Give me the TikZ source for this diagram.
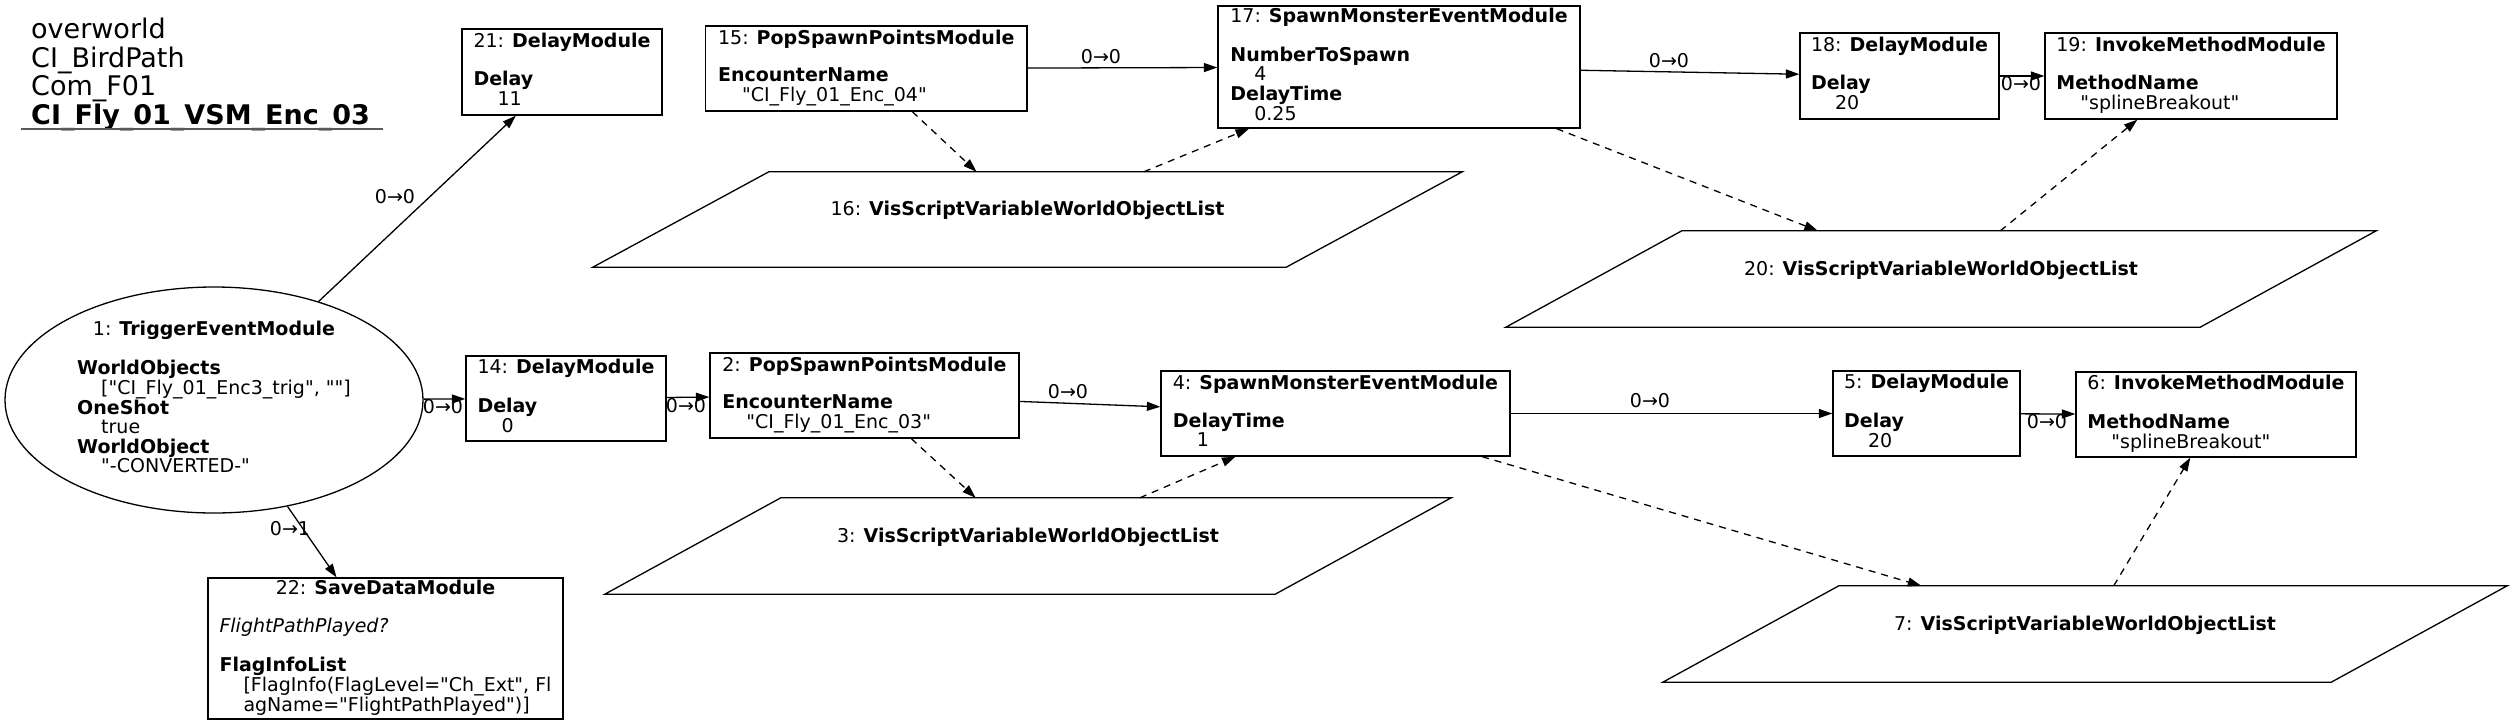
\documentclass[tikz,border=0pt]{standalone}
\usepackage{fontspec}
\setmainfont{DejaVu Sans}[Ligatures=TeXOff]
\usetikzlibrary{arrows.meta,shapes.geometric}

\newcommand{\modfont}{\fontsize{19pt}{18.5pt}\selectfont}
\newcommand{\headfont}{\fontsize{27pt}{27pt}\selectfont}
\newcommand{\modrows}[1]{\begin{tabular}{@{}l@{}}#1\end{tabular}}
\newcommand{\modtitle}[2]{\multicolumn{1}{@{}c@{}}{#1: \textbf{#2}}}
\newcommand{\valind}{\hspace*{24pt}}

\tikzset{
  module/.style={draw, rectangle, line width=1.3pt, inner sep=0pt},
  trigger/.style={draw, ellipse, line width=1.3pt, inner sep=0pt},
  varlist/.style={rectangle, inner sep=0pt, text height=14pt, text depth=22pt},
  flow/.style={-{Triangle[length=13.5pt,width=9pt]}, line width=1.3pt},
  link/.style={flow, dash pattern=on 7pt off 6pt},
  port/.style={inner sep=0pt}
}

\begin{document}
\begin{tikzpicture}[x=1pt, y=-1pt, font=\modfont]
  \useasboundingbox (0,0) rectangle (2512,724);

  % header
  \node[anchor=north west, inner sep=0pt, font=\headfont] (head) at (31,18)
    {\modrows{overworld\\CI\_BirdPath\\Com\_F01\\\textbf{CI\_Fly\_01\_VSM\_Enc\_03}}};
  \draw[line width=1.3pt, black!65] (21,129) -- (383,129);

  % modules
  \node[trigger, minimum width=418pt, minimum height=226pt] (1) at (214,400)
    {\modrows{\modtitle{1}{TriggerEventModule}\\ \\ \textbf{WorldObjects}\\ \valind["CI\_Fly\_01\_Enc3\_trig", ""]\\ \textbf{OneShot}\\ \valind true\\ \textbf{WorldObject}\\ \valind"-CONVERTED-"}};
  \node[module, minimum width=200pt, minimum height=86pt] (21) at (562,72)
    {\modrows{\modtitle{21}{DelayModule}\\ \\ \textbf{Delay}\\ \valind 11}};
  \node[module, minimum width=200pt, minimum height=85pt] (14) at (566,398.5)
    {\modrows{\modtitle{14}{DelayModule}\\ \\ \textbf{Delay}\\ \valind 0}};
  \node[module, minimum width=355pt, minimum height=141pt] (22) at (385.5,648.5)
    {\modrows{\modtitle{22}{SaveDataModule}\\ \\ \textit{FlightPathPlayed?}\\ \\ \textbf{FlagInfoList}\\ \valind[FlagInfo(FlagLevel="Ch\_Ext", Fl\\ \valind agName="FlightPathPlayed")]}};
  \node[module, minimum width=321.5pt, minimum height=85pt] (15) at (866.25,68.5)
    {\modrows{\modtitle{15}{PopSpawnPointsModule}\\ \\ \textbf{EncounterName}\\ \valind"CI\_Fly\_01\_Enc\_04"}};
  \node[module, minimum width=362pt, minimum height=122pt] (17) at (1399,67)
    {\modrows{\modtitle{17}{SpawnMonsterEventModule}\\ \\ \textbf{NumberToSpawn}\\ \valind 4\\ \textbf{DelayTime}\\ \valind 0.25}};
  \node[module, minimum width=199pt, minimum height=86pt] (18) at (1899.5,76)
    {\modrows{\modtitle{18}{DelayModule}\\ \\ \textbf{Delay}\\ \valind 20}};
  \node[module, minimum width=292pt, minimum height=86pt] (19) at (2191,76)
    {\modrows{\modtitle{19}{InvokeMethodModule}\\ \\ \textbf{MethodName}\\ \valind"splineBreakout"}};
  \node[module, minimum width=309pt, minimum height=85pt] (2) at (864.5,395.5)
    {\modrows{\modtitle{2}{PopSpawnPointsModule}\\ \\ \textbf{EncounterName}\\ \valind"CI\_Fly\_01\_Enc\_03"}};
  \node[module, minimum width=349pt, minimum height=85pt] (4) at (1335.5,413.5)
    {\modrows{\modtitle{4}{SpawnMonsterEventModule}\\ \\ \textbf{DelayTime}\\ \valind 1}};
  \node[module, minimum width=187pt, minimum height=85pt] (5) at (1926.5,413.5)
    {\modrows{\modtitle{5}{DelayModule}\\ \\ \textbf{Delay}\\ \valind 20}};
  \node[module, minimum width=280pt, minimum height=85pt] (6) at (2216,414.5)
    {\modrows{\modtitle{6}{InvokeMethodModule}\\ \\ \textbf{MethodName}\\ \valind"splineBreakout"}};

  % variable lists
  \node[varlist, minimum width=869pt, minimum height=95pt] (16) at (1027.5,219.5) {16: \textbf{VisScriptVariableWorldObjectList}};
  \node[varlist, minimum width=846pt, minimum height=96pt] (3) at (1028,546) {3: \textbf{VisScriptVariableWorldObjectList}};
  \node[varlist, minimum width=870pt, minimum height=96pt] (20) at (1941,279) {20: \textbf{VisScriptVariableWorldObjectList}};
  \node[varlist, minimum width=844pt, minimum height=96pt] (7) at (2085,634) {7: \textbf{VisScriptVariableWorldObjectList}};
  \foreach \p in {16,3,20,7}
    \draw[line width=1.3pt] ([xshift=176pt]\p.north west) -- (\p.north east)
      -- ([xshift=-176pt]\p.south east) -- (\p.south west) -- cycle;

  % edge labels
  \node[port] (l21) at (395,197) {0→0};
  \node[port] (l14) at (443,407) {0→0};
  \node[port] (l22) at (290,529) {0→1};
  \node[port] (l2) at (686,406) {0→0};
  \node[port] (l17) at (1101,57) {0→0};
  \node[port] (l4) at (1068,392) {0→0};
  \node[port] (l18) at (1669,61) {0→0};
  \node[port] (l19) at (2021,84) {0→0};
  \node[port] (l5) at (1650,401) {0→0};
  \node[port] (l6) at (2047,422) {0→0};

  % Draw the flow
  \draw[flow] (1) -- (21);
  \draw[flow] (1) -- (14);
  \draw[flow] (1) -- (22);
  \draw[flow] (14) -- (2);
  \draw[flow] (15) -- (17);
  \draw[flow] (2) -- (4);
  \draw[flow] (17) -- (18);
  \draw[flow] (18) -- (19);
  \draw[flow] (4) -- (5);
  \draw[flow] (5) -- (6);
  % variable links
  \draw[link] (15) -- (16);
  \draw[link] (16) -- (17);
  \draw[link] (2) -- (3);
  \draw[link] (3) -- (4);
  \draw[link] (17) -- (20);
  \draw[link] (20) -- (19);
  \draw[link] (4) -- (7);
  \draw[link] (7) -- (6);
\end{tikzpicture}
\end{document}
